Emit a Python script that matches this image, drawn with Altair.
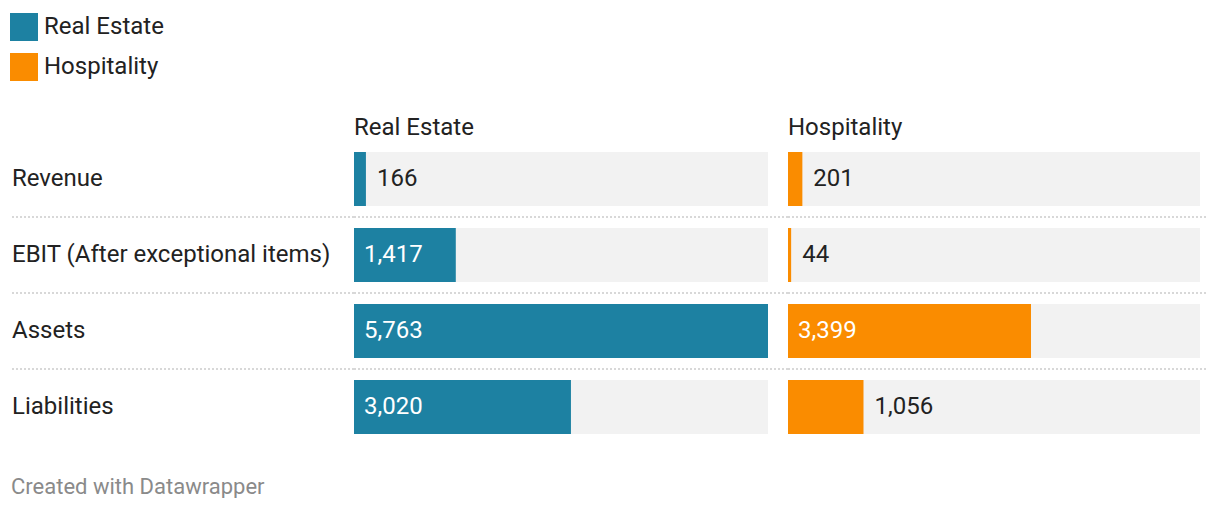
import altair as alt
import pandas as pd

metrics = ["Revenue", "EBIT (After exceptional items)", "Assets", "Liabilities"]
groups = ["Real Estate", "Hospitality"]
real_estate = [166, 1417, 5763, 3020]
hospitality = [201, 44, 3399, 1056]
colors = ["#1d81a2", "#fa8c00"]
footer = "Created with Datawrapper"

FONT = "Roboto"
TEXT = "#222222"
ROW_H = 76
PANEL_H = ROW_H * len(metrics)
LABEL_W = 342
BAR_W = {"Real Estate": 414, "Hospitality": 412}
PANEL_W = {"Real Estate": 434, "Hospitality": 420}

vmax = max(real_estate + hospitality)

rows = []
for g, vals in zip(groups, [real_estate, hospitality]):
    for m, v in zip(metrics, vals):
        rows.append({"group": g, "metric": m, "value": v, "label": f"{v:,}",
                     "vmax": vmax, "zero": 0, "inside": bool(v / vmax > 0.2)})
df = pd.DataFrame(rows)

yscale = alt.Scale(domain=metrics, paddingInner=0, paddingOuter=0)
Y = alt.Y("metric:N", scale=yscale, axis=None, sort=metrics)

sep_df = pd.DataFrame({"metric": metrics[1:]})


def sep(width):
    return alt.Chart(sep_df).mark_rule(color="#cccccc", strokeDash=[2, 2], strokeWidth=1.5).encode(
        y=alt.Y("metric:N", scale=yscale, axis=None, bandPosition=0),
        x=alt.value(0), x2=alt.value(width))


# label column
lab = alt.Chart(pd.DataFrame({"metric": metrics})).mark_text(
    align="left", baseline="middle", fontSize=24, color=TEXT, font=FONT
).encode(y=Y, x=alt.value(0), text="metric:N")
foot = alt.Chart(pd.DataFrame({"t": [footer]})).mark_text(
    align="left", baseline="middle", fontSize=22, color="#8a8a8a", font=FONT
).encode(text="t:N", x=alt.value(-1), y=alt.value(346))
label_panel = alt.layer(sep(LABEL_W), lab, foot).properties(width=LABEL_W, height=PANEL_H)

color = alt.Color("group:N", scale=alt.Scale(domain=groups, range=colors),
                  legend=alt.Legend(title=None, orient="none", legendX=-2, legendY=-128,
                                    symbolType="square", symbolSize=784, symbolStrokeWidth=0,
                                    symbolOpacity=1, labelFont=FONT, labelFontSize=24,
                                    labelColor=TEXT, labelOffset=6, rowPadding=12, padding=0))


def panel(g):
    sub = df[df["group"] == g]
    xs = alt.Scale(domain=[0, vmax], range=[0, BAR_W[g]], nice=False, zero=True)
    base = alt.Chart(sub)
    bg = base.mark_bar(color="#f2f2f2", size=54).encode(
        y=Y, x=alt.X("zero:Q", scale=xs, axis=None), x2="vmax:Q")
    bars = base.mark_bar(size=54).encode(
        y=Y, x=alt.X("zero:Q", scale=xs, axis=None), x2="value:Q", color=color)
    t_in = base.transform_filter("datum.inside").mark_text(
        align="left", baseline="middle", dx=10, fontSize=24, color="white", font=FONT
    ).encode(y=Y, x=alt.value(0), text="label:N")
    t_out = base.transform_filter("!datum.inside").mark_text(
        align="left", baseline="middle", dx=11, fontSize=24, color=TEXT, font=FONT
    ).encode(y=Y, x=alt.X("value:Q", scale=xs, axis=None), text="label:N")
    head = alt.Chart(pd.DataFrame({"group": [g]})).mark_text(
        align="left", baseline="middle", fontSize=24, color=TEXT, font=FONT
    ).encode(text="group:N", x=alt.value(0), y=alt.value(-13))
    return alt.layer(sep(PANEL_W[g]), bg, bars, t_in, t_out, head).properties(
        width=PANEL_W[g], height=PANEL_H)


chart = alt.hconcat(label_panel, panel("Real Estate"), panel("Hospitality"),
                    spacing=0, bounds="flush").resolve_scale(
    color="shared", x="independent", y="shared").resolve_legend(color="shared").properties(
    padding={"left": 2, "top": 5, "right": 0, "bottom": 0}, background="white"
).configure(font=FONT).configure_view(stroke="transparent", strokeWidth=0)

chart.save("out.html", embed_options={"renderer": "svg", "actions": False})
